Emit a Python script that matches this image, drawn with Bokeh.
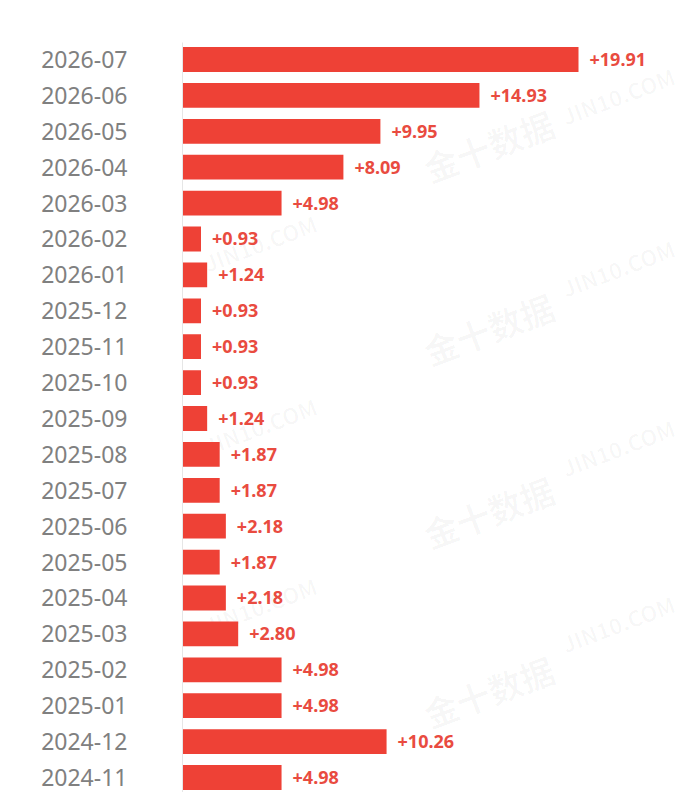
from bokeh.plotting import figure
from bokeh.models import ColumnDataSource, Range1d, FixedTicker, Label
from bokeh.core.properties import value
from bokeh.embed import file_html
from bokeh.resources import INLINE

months = ["2026-07", "2026-06", "2026-05", "2026-04", "2026-03", "2026-02",
          "2026-01", "2025-12", "2025-11", "2025-10", "2025-09", "2025-08",
          "2025-07", "2025-06", "2025-05", "2025-04", "2025-03", "2025-02",
          "2025-01", "2024-12", "2024-11"]
changes = [19.91, 14.93, 9.95, 8.09, 4.98, 0.93, 1.24, 0.93, 0.93, 0.93, 1.24,
           1.87, 1.87, 2.18, 1.87, 2.18, 2.80, 4.98, 4.98, 10.26, 4.98]

rows = list(range(len(months)))
source = ColumnDataSource(data=dict(
    row=rows,
    change=changes,
    label=["+%.2f" % c for c in changes],
))

p = figure(width=688, height=792, output_backend="svg", toolbar_location=None,
           x_range=Range1d(0, 25.44), y_range=Range1d(20.418, -0.4735),
           min_border_left=182, min_border_right=0, min_border_top=42,
           min_border_bottom=0)
p.outline_line_color = None
p.xgrid.visible = False
p.ygrid.visible = False
p.xaxis.visible = False

# faint watermark
wm_font = "Noto Sans CJK SC"
for x, y in [(15.4, 2.4), (15.4, 7.5), (15.4, 12.6), (15.4, 17.6)]:
    p.add_layout(Label(x=x, y=y, text="金十数据", angle=0.36, text_align="center",
                       text_baseline="middle", text_font=wm_font, text_font_size="34px",
                       text_font_style="bold", text_color="#000000", text_alpha=0.03,
                       level="underlay"))
for x, y in [(3.9, 5.1), (3.9, 10.2), (3.9, 15.2), (21.9, 1.0), (21.9, 5.8),
             (21.9, 10.8), (21.9, 15.7)]:
    p.add_layout(Label(x=x, y=y, text="JIN10.COM", angle=0.36, text_align="center",
                       text_baseline="middle", text_font=wm_font, text_font_size="22px",
                       text_font_style="bold", text_color="#000000", text_alpha=0.03,
                       level="underlay"))

p.hbar(y="row", left=0, right="change", height=0.69, source=source,
       fill_color="#ee4136", line_color=None)
p.text(x="change", y="row", text="label", source=source, x_offset=11,
       text_baseline="middle", text_align="left", text_font=value("Noto Sans"),
       text_font_size="18px", text_font_style="bold", text_color="#e94b40")

ax = p.yaxis[0]
ax.ticker = FixedTicker(ticks=rows)
ax.major_label_overrides = {i: m for i, m in enumerate(months)}
ax.major_tick_line_color = None
ax.minor_tick_line_color = None
ax.major_tick_out = 0
ax.major_label_standoff = 55
ax.axis_line_color = "#e6e6e6"
ax.axis_line_width = 1
ax.major_label_text_font = "Noto Sans"
ax.major_label_text_font_size = "23px"
ax.major_label_text_color = "#808080"

open("out.html", "w").write(file_html(p, INLINE))
